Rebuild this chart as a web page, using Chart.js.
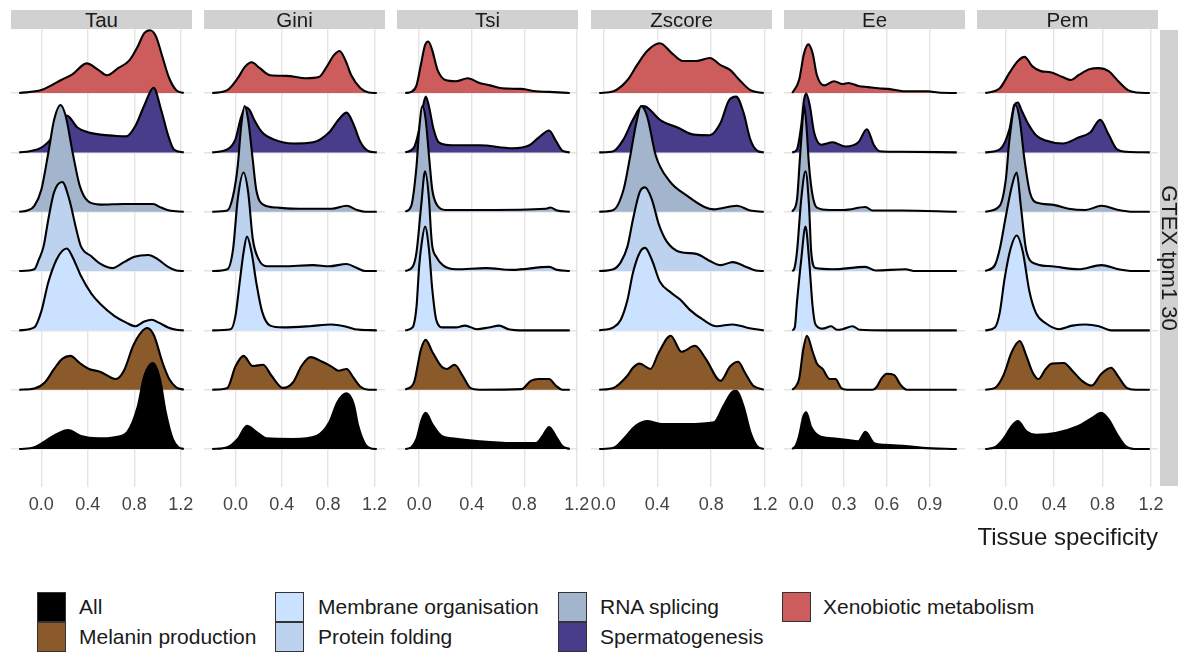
<!DOCTYPE html>
<html>
<head>
<meta charset="utf-8">
<script src="https://cdn.jsdelivr.net/npm/chart.js@4.4.1/dist/chart.umd.min.js"></script>
<style>
  html, body { margin: 0; padding: 0; background: #ffffff; }
  body { width: 1184px; height: 655px; position: relative; overflow: hidden;
         font-family: "Liberation Sans", Arial, sans-serif; color: #1a1a1a; }
  canvas { position: absolute; top: 0; }
  .strip { position: absolute; top: 10px; height: 19px; background: #d1d1d1;
           font-size: 20.5px; line-height: 19px; text-align: center; color: #1a1a1a; }
  .rstrip { position: absolute; left: 1160px; top: 30px; width: 18px; height: 456px; background: #d1d1d1; }
  .rstrip span { position: absolute; left: 50%; top: 50%; white-space: nowrap; font-size: 22px;
                 transform: translate(-50%, -50%) rotate(90deg); }
  .xtitle { position: absolute; right: 26px; top: 525px; font-size: 24px; line-height: 24px; color: #1a1a1a; }
  .key { position: absolute; width: 27px; height: 28px; border: 1px solid #333; box-sizing: content-box; }
  .ltext { position: absolute; font-size: 21px; line-height: 30px; color: #1a1a1a; white-space: nowrap; }
</style>
</head>
<body>
<div id="root"></div>
<script>
// Gene groups, drawn bottom row first
const categories = ['All', 'Melanin production', 'Membrane organisation', 'Protein folding',
                    'RNA splicing', 'Spermatogenesis', 'Xenobiotic metabolism'];
const colours = ['#000000', '#8B5A2B', '#CAE1FF', '#BCD2EE', '#A2B5CD', '#483D8B', '#CD5C5C'];

// Specificity metrics (one panel each)
const facets = ['Tau', 'Gini', 'Tsi', 'Zscore', 'Ee', 'Pem'];
const rowLabel = 'GTEX tpm1 30';
const xTitle = 'Tissue specificity';

// Axis ticks
const ticksStd = [0, 0.4, 0.8, 1.2];
const tickLabelsStd = ['0.0', '0.4', '0.8', '1.2'];
const ticksEe = [0, 0.3, 0.6, 0.9];
const tickLabelsEe = ['0.0', '0.3', '0.6', '0.9'];

// Ridge heights: [specificity, density height in row units], one list per group
const tau = [
  [[-0.19,0],[-0.06,.03],[.03,.13],[.13,.25],[.23,.32],[.34,.22],[.49,.18],[.63,.20],[.74,.29],[.83,.72],[.885,1.23],[.96,1.45],[1.02,1.18],[1.07,.62],[1.13,.17],[1.18,.03],[1.225,0]],
  [[-0.19,0],[-0.06,.02],[.03,.12],[.11,.35],[.18,.52],[.25,.57],[.33,.45],[.41,.35],[.51,.30],[.64,.18],[.71,.32],[.79,.74],[.86,.97],[.91,1.04],[.97,.91],[1.04,.47],[1.10,.18],[1.16,.04],[1.225,0]],
  [[-0.19,0],[-0.06,.05],[0,.32],[.06,.81],[.13,1.19],[.18,1.34],[.22,1.38],[.27,1.23],[.34,.92],[.43,.62],[.51,.44],[.63,.24],[.73,.13],[.81,.07],[.885,.15],[.95,.18],[1.01,.13],[1.09,.05],[1.16,.01],[1.225,0]],
  [[-0.19,0],[-0.06,.03],[-0.02,.20],[.02,.42],[.06,.87],[.11,1.33],[.18,1.50],[.24,1.21],[.30,.71],[.34,.42],[.43,.25],[.51,.12],[.61,.05],[.71,.15],[.80,.24],[.92,.27],[1.0,.20],[1.09,.07],[1.16,.01],[1.225,0]],
  [[-0.19,0],[-0.12,.02],[-0.06,.10],[0,.37],[.06,.99],[.11,1.55],[.165,1.80],[.21,1.61],[.27,.99],[.33,.44],[.40,.18],[.51,.12],[.71,.13],[.96,.13],[1.03,.07],[1.10,.02],[1.225,0]],
  [[-0.19,0],[-0.10,.02],[0,.08],[.09,.25],[.17,.60],[.22,.62],[.31,.42],[.40,.34],[.51,.30],[.63,.28],[.73,.27],[.81,.45],[.885,.79],[.965,1.09],[1.03,.72],[1.09,.29],[1.14,.05],[1.225,0]],
  [[-0.19,0],[0,.05],[.086,.13],[.17,.22],[.27,.32],[.39,.50],[.49,.39],[.565,.30],[.66,.42],[.757,.55],[.83,.79],[.885,1.01],[.935,1.06],[.985,.96],[1.04,.62],[1.10,.25],[1.16,.05],[1.225,0]]
];
const gini = [
  [[-0.2,0],[-0.07,.03],[.02,.17],[.10,.39],[.18,.29],[.27,.18],[.50,.17],[.70,.22],[.81,.45],[.88,.79],[.96,.94],[1.02,.76],[1.06,.39],[1.12,.08],[1.17,.01],[1.22,0]],
  [[-0.2,0],[-0.07,.03],[0,.39],[.07,.57],[.15,.40],[.24,.42],[.31,.24],[.41,.03],[.50,.13],[.57,.40],[.65,.55],[.75,.47],[.83,.39],[.89,.32],[.96,.35],[1.02,.20],[1.08,.05],[1.15,0],[1.22,0]],
  [[-0.2,0],[-0.04,.02],[0,.24],[.04,.86],[.07,1.31],[.10,1.58],[.14,1.31],[.18,.81],[.23,.32],[.30,.08],[.41,.05],[.64,.07],[.83,.10],[.94,.07],[1.03,.02],[1.22,0]],
  [[-0.2,0],[-0.07,.03],[-0.02,.37],[.02,1.21],[.07,1.66],[.11,1.33],[.15,.54],[.20,.20],[.27,.08],[.41,.08],[.67,.10],[.81,.08],[.96,.12],[1.05,.05],[1.12,0],[1.22,0]],
  [[-0.2,0],[-0.07,.02],[-0.02,.27],[.02,.77],[.05,1.45],[.08,1.78],[.11,1.55],[.15,.87],[.18,.37],[.24,.12],[.36,.07],[.55,.05],[.83,.05],[.96,.10],[1.05,.03],[1.12,0],[1.22,0]],
  [[-0.2,0],[-0.07,.05],[0,.22],[.05,.60],[.09,.76],[.12,.72],[.17,.52],[.23,.34],[.33,.22],[.50,.15],[.67,.17],[.81,.34],[.89,.55],[.96,.67],[1.02,.47],[1.08,.17],[1.15,.02],[1.22,0]],
  [[-0.2,0],[-0.07,.05],[.02,.25],[.085,.45],[.14,.52],[.21,.42],[.30,.30],[.44,.29],[.61,.25],[.72,.27],[.79,.45],[.85,.64],[.90,.71],[.95,.55],[1.0,.30],[1.08,.08],[1.15,.01],[1.22,0]]
];
const tsi = [
  [[-0.106,0],[-0.06,.03],[-0.02,.17],[.02,.50],[.05,.61],[.10,.42],[.17,.22],[.25,.18],[.46,.13],[.71,.10],[.89,.10],[.94,.22],[.99,.37],[1.04,.22],[1.09,.05],[1.147,0]],
  [[-0.106,0],[-0.04,.12],[.015,.69],[.05,.84],[.10,.64],[.17,.39],[.21,.35],[.27,.42],[.33,.24],[.39,.03],[.46,0],[.78,.01],[.85,.15],[.91,.18],[.99,.18],[1.04,.07],[1.09,0],[1.147,0]],
  [[-0.106,0],[-0.05,.05],[-0.02,.40],[0,1.08],[.02,1.48],[.045,1.75],[.075,1.36],[.10,.69],[.13,.18],[.18,.05],[.28,.05],[.35,.08],[.44,.02],[.53,.05],[.61,.08],[.68,.02],[.80,0],[1.147,0]],
  [[-0.106,0],[-0.05,.07],[-0.02,.32],[.015,1.09],[.045,1.68],[.075,1.21],[.09,.66],[.10,.42],[.13,.24],[.18,.10],[.28,.03],[.51,.05],[.71,.02],[.99,.07],[1.05,.02],[1.147,0]],
  [[-0.106,0],[-0.06,.10],[-0.02,.77],[0,1.38],[.025,1.78],[.05,1.55],[.075,.94],[.10,.37],[.14,.10],[.20,.03],[.50,.03],[.96,.05],[1.0,.07],[1.05,.02],[1.147,0]],
  [[-0.106,0],[-0.04,.08],[0,.39],[.025,.72],[.05,.94],[.075,.77],[.11,.39],[.15,.17],[.25,.12],[.46,.12],[.71,.07],[.84,.12],[.91,.25],[.99,.37],[1.04,.20],[1.09,.03],[1.147,0]],
  [[-0.106,0],[-0.06,.02],[-0.02,.13],[.015,.50],[.045,.81],[.07,.87],[.10,.72],[.14,.39],[.20,.22],[.28,.20],[.37,.25],[.46,.17],[.54,.13],[.63,.08],[.78,.07],[.89,.03],[.99,.02],[1.147,0]]
];
const zscore = [
  [[-0.03,0],[.075,.02],[.15,.17],[.24,.39],[.33,.47],[.44,.42],[.62,.42],[.82,.45],[.89,.72],[.955,.96],[.985,.98],[1.04,.72],[1.09,.29],[1.14,.05],[1.19,0]],
  [[-0.03,0],[.075,.03],[.18,.24],[.22,.37],[.27,.44],[.35,.35],[.41,.62],[.50,.91],[.58,.64],[.68,.74],[.76,.52],[.87,.15],[.94,.39],[1.0,.47],[1.05,.29],[1.11,.07],[1.19,0]],
  [[-0.03,0],[.075,.05],[.13,.18],[.18,.52],[.22,.97],[.27,1.31],[.31,1.39],[.36,1.19],[.42,.82],[.50,.64],[.57,.52],[.64,.35],[.74,.18],[.84,.07],[.96,.10],[1.06,.05],[1.19,0]],
  [[-0.03,0],[.075,.03],[.13,.15],[.18,.42],[.22,.87],[.27,1.33],[.31,1.41],[.36,1.21],[.41,.80],[.47,.50],[.57,.32],[.69,.29],[.79,.17],[.87,.10],[.96,.15],[1.06,.07],[1.13,.01],[1.19,0]],
  [[-0.03,0],[.075,.03],[.15,.37],[.20,.94],[.245,1.50],[.28,1.78],[.325,1.61],[.39,.94],[.49,.52],[.62,.27],[.75,.08],[.82,.04],[.99,.10],[1.09,.02],[1.19,0]],
  [[-0.03,0],[.075,.02],[.15,.22],[.22,.55],[.29,.78],[.325,.76],[.42,.55],[.55,.42],[.67,.30],[.79,.29],[.87,.50],[.93,.87],[.985,.94],[1.04,.67],[1.09,.22],[1.14,.03],[1.19,0]],
  [[-0.03,0],[.075,.03],[.18,.22],[.25,.47],[.325,.71],[.42,.84],[.51,.67],[.59,.54],[.69,.54],[.79,.59],[.87,.47],[.94,.39],[1.01,.22],[1.09,.05],[1.19,0]]
];
const ee = [
  [[-0.063,0],[-0.04,.05],[-0.015,.22],[.015,.55],[.035,.62],[.07,.37],[.125,.22],[.22,.18],[.33,.15],[.40,.13],[.45,.29],[.51,.10],[.59,.07],[.73,.05],[.85,.02],[1.09,0]],
  [[-0.063,0],[-0.04,.05],[-0.015,.18],[.015,.69],[.04,.91],[.08,.64],[.11,.44],[.15,.35],[.20,.18],[.24,.18],[.28,.03],[.32,0],[.50,0],[.53,.05],[.56,.18],[.60,.27],[.65,.25],[.70,.07],[.74,0],[1.09,0]],
  [[-0.063,0],[-0.045,.05],[-0.03,.47],[0,1.19],[.03,1.75],[.055,1.19],[.08,.40],[.10,.10],[.15,.03],[.21,.07],[.25,.01],[.29,.02],[.36,.07],[.41,.01],[.60,0],[1.09,0]],
  [[-0.063,0],[-0.05,.03],[-0.03,.32],[0,1.21],[.03,1.68],[.055,1.09],[.07,.32],[.10,.05],[.22,.03],[.45,.07],[.52,.01],[.73,.03],[.80,0],[1.09,0]],
  [[-0.063,0],[-0.03,.20],[-0.01,.87],[.01,1.55],[.02,1.80],[.035,1.50],[.055,.77],[.08,.27],[.11,.07],[.20,.03],[.30,.03],[.45,.08],[.50,.02],[.70,.02],[1.09,0]],
  [[-0.063,0],[-0.03,.05],[0,.45],[.02,.89],[.035,.99],[.06,.79],[.09,.34],[.14,.13],[.22,.17],[.31,.10],[.40,.17],[.46,.39],[.51,.12],[.55,.02],[.70,.01],[1.09,0]],
  [[-0.063,0],[-0.015,.22],[.02,.67],[.05,.82],[.08,.67],[.11,.30],[.16,.13],[.23,.20],[.29,.15],[.33,.17],[.40,.12],[.47,.10],[.54,.08],[.61,.07],[.73,.03],[.89,.03],[.96,.01],[1.09,0]]
];
const pem = [
  [[-0.17,0],[-0.09,.03],[-0.02,.17],[.05,.39],[.10,.47],[.17,.30],[.25,.24],[.41,.27],[.60,.39],[.71,.52],[.79,.61],[.85,.50],[.92,.25],[.99,.05],[1.06,0],[1.19,0]],
  [[-0.17,0],[-0.09,.03],[-0.02,.24],[.05,.64],[.115,.82],[.17,.57],[.22,.30],[.27,.18],[.33,.35],[.38,.44],[.48,.45],[.55,.32],[.63,.15],[.71,.07],[.79,.27],[.87,.37],[.93,.22],[1.0,.03],[1.07,0],[1.19,0]],
  [[-0.17,0],[-0.09,.05],[-0.05,.30],[-0.01,.87],[.04,1.38],[.09,1.60],[.14,1.33],[.195,.66],[.25,.29],[.33,.12],[.44,.02],[.55,.08],[.66,.10],[.77,.07],[.87,0],[1.19,0]],
  [[-0.17,0],[-0.09,.10],[-0.05,.37],[0,.92],[.05,1.43],[.09,1.66],[.125,1.08],[.17,.34],[.25,.12],[.38,.08],[.60,.03],[.79,.10],[.93,.03],[1.05,0],[1.19,0]],
  [[-0.17,0],[-0.05,.10],[0,.54],[.03,1.21],[.08,1.80],[.115,1.55],[.155,.87],[.20,.32],[.26,.15],[.38,.12],[.52,.05],[.66,.03],[.79,.10],[.93,.03],[1.05,0],[1.19,0]],
  [[-0.17,0],[-0.05,.05],[.03,.39],[.07,.80],[.10,.84],[.13,.71],[.18,.50],[.25,.29],[.33,.20],[.47,.15],[.60,.25],[.70,.34],[.78,.55],[.85,.30],[.92,.05],[1.0,.01],[1.19,0]],
  [[-0.17,0],[-0.05,.08],[.03,.34],[.10,.54],[.155,.61],[.22,.45],[.29,.37],[.37,.35],[.47,.27],[.54,.22],[.60,.30],[.69,.40],[.77,.42],[.85,.37],[.93,.20],[1.01,.05],[1.08,.01],[1.19,0]]
];

// ---- layout ----
const facetCurves = [tau, gini, tsi, zscore, ee, pem];
const facetTicks = [ticksStd, ticksStd, ticksStd, ticksStd, ticksEe, ticksStd];
const facetTickLabels = [tickLabelsStd, tickLabelsStd, tickLabelsStd, tickLabelsStd, tickLabelsEe, tickLabelsStd];

const PANEL_LEFT = 11, PANEL_W = 181, PANEL_STEP = 193.2;
const PANEL_TOP = 29, CANVAS_H = 530, SIDE_PAD = 30;
const GRID = '#e4e4e4';

Chart.defaults.font.family = '"Liberation Sans", Arial, sans-serif';

const root = document.getElementById('root');

facets.forEach((name, f) => {
  const left = Math.round(PANEL_LEFT + f * PANEL_STEP);

  const strip = document.createElement('div');
  strip.className = 'strip';
  strip.style.left = left + 'px';
  strip.style.width = PANEL_W + 'px';
  strip.textContent = name;
  root.appendChild(strip);

  const cv = document.createElement('canvas');
  cv.width = PANEL_W + 2 * SIDE_PAD;
  cv.height = CANVAS_H;
  cv.style.left = (left - SIDE_PAD) + 'px';
  root.appendChild(cv);

  const curves = facetCurves[f];
  const from = curves[0][0][0];
  const to = curves[0][curves[0].length - 1][0];
  const span = to - from;
  const ticks = facetTicks[f];
  const labels = facetTickLabels[f];

  const datasets = curves.map((pts, i) => ({
    label: categories[i],
    data: pts.map(([x, h]) => ({ x: x, y: i + 1 + h })),
    fill: { value: i + 1 },
    backgroundColor: colours[i],
    borderColor: '#000000',
    borderWidth: 2.1,
    borderJoinStyle: 'round',
    pointRadius: 0,
    cubicInterpolationMode: 'monotone',
    order: i
  }));

  new Chart(cv, {
    type: 'line',
    data: { datasets },
    options: {
      responsive: false,
      animation: false,
      devicePixelRatio: 1,
      layout: { padding: { left: SIDE_PAD, right: SIDE_PAD, top: PANEL_TOP, bottom: 2 } },
      plugins: { legend: { display: false }, tooltip: { enabled: false }, title: { display: false } },
      scales: {
        x: {
          type: 'linear',
          min: from - 0.05 * span,
          max: to + 0.05 * span,
          afterBuildTicks: ax => { ax.ticks = ticks.map(v => ({ value: v })); },
          afterFit: ax => { ax.height = 41; },
          grid: { color: GRID, lineWidth: 1.4, drawTicks: false },
          border: { display: false },
          ticks: {
            padding: 7, color: '#444444', font: { size: 18 },
            maxRotation: 0, autoSkip: false,
            callback: (v, idx) => labels[idx]
          }
        },
        y: {
          type: 'linear',
          min: 0.36,
          max: 8.08,
          afterBuildTicks: ax => { ax.ticks = categories.map((c, i) => ({ value: i + 1 })); },
          afterFit: ax => { ax.width = 0; },
          grid: { color: GRID, lineWidth: 1.4, drawTicks: false },
          border: { display: false },
          ticks: { display: false }
        }
      }
    }
  });
});

// row strip on the right
const rs = document.createElement('div');
rs.className = 'rstrip';
const rsText = document.createElement('span');
rsText.textContent = rowLabel;
rs.appendChild(rsText);
root.appendChild(rs);

// x axis title
const xt = document.createElement('div');
xt.className = 'xtitle';
xt.textContent = xTitle;
root.appendChild(xt);

// legend: filled down columns of two
const legendCols = [37, 275, 558, 782];
const legendTextX = [79, 318, 600, 823];
const legendRows = [592, 622];
categories.forEach((c, i) => {
  const col = Math.floor(i / 2), row = i % 2;
  const key = document.createElement('div');
  key.className = 'key';
  key.style.left = legendCols[col] + 'px';
  key.style.top = legendRows[row] + 'px';
  key.style.background = colours[i];
  root.appendChild(key);
  const t = document.createElement('div');
  t.className = 'ltext';
  t.style.left = legendTextX[col] + 'px';
  t.style.top = legendRows[row] + 'px';
  t.textContent = c;
  root.appendChild(t);
});
</script>
</body>
</html>
